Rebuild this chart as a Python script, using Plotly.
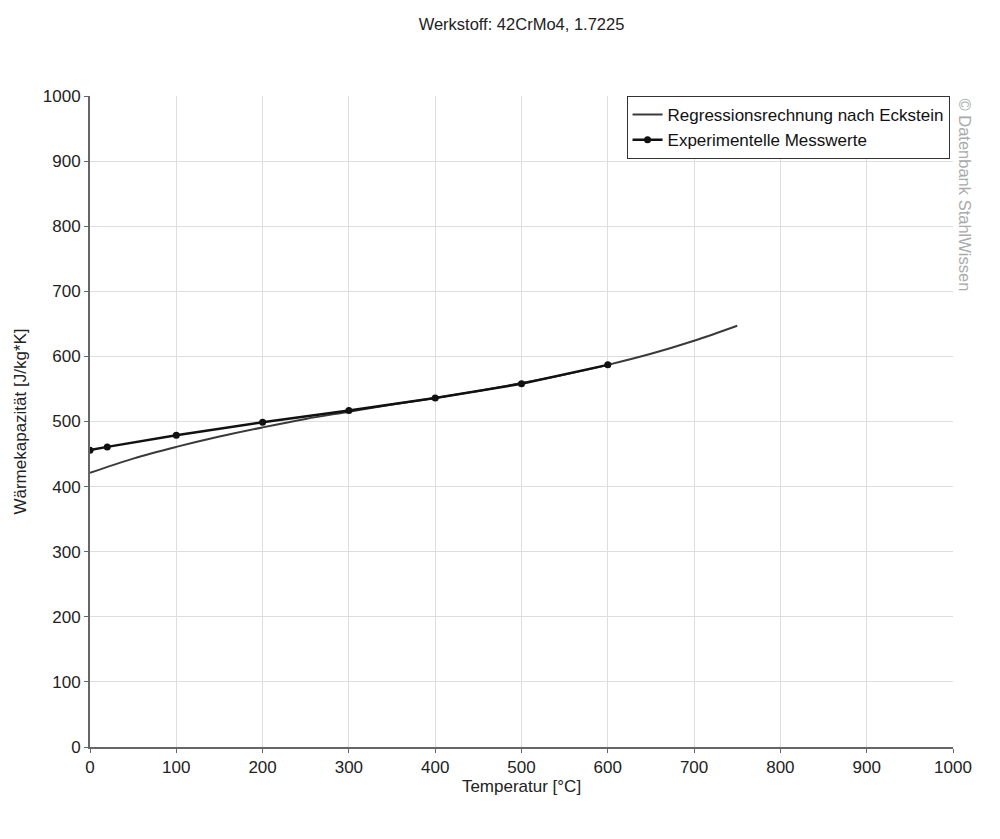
import plotly.graph_objects as go

# Regressionsrechnung nach Eckstein
reg_temp = [0, 50, 100, 150, 200, 250, 300, 350, 400, 450, 500, 550, 600, 650, 700, 750]
reg_cp = [421, 443, 461, 477, 491, 504, 515, 526, 536, 547, 559, 572, 587, 604, 624, 647]

# Experimentelle Messwerte
exp_temp = [0, 20, 100, 200, 300, 400, 500, 600]
exp_cp = [456, 461, 479, 499, 517, 536, 558, 587]

x_ticks = list(range(0, 1001, 100))
y_ticks = list(range(0, 1001, 100))

fig = go.Figure()

fig.add_trace(go.Scatter(
    x=reg_temp, y=reg_cp, mode='lines', name='Regressionsrechnung nach Eckstein',
    line=dict(color='#3a3a3a', width=2, shape='spline'),
))

fig.add_trace(go.Scatter(
    x=exp_temp, y=exp_cp, mode='lines+markers', name='Experimentelle Messwerte',
    line=dict(color='#111111', width=2.5),
    marker=dict(color='#111111', size=7),
))

axis_style = dict(
    showgrid=True, gridcolor='#dedede', gridwidth=1,
    showline=True, linecolor='#666666', linewidth=2,
    ticks='outside', ticklen=4, tickcolor='#666666',
    zeroline=False, tickfont=dict(size=17, color='#222222'),
)

fig.update_xaxes(range=[0, 1000], tickvals=x_ticks,
                 title=dict(text='Temperatur [°C]', font=dict(size=17, color='#222222'), standoff=4),
                 **axis_style)
fig.update_yaxes(range=[0, 1000], tickvals=y_ticks,
                 title=dict(text='Wärmekapazität [J/kg*K]', font=dict(size=17, color='#222222'), standoff=12),
                 **axis_style)

# Wasserzeichen rechts neben dem Plot
fig.add_annotation(
    text='© Datenbank StahlWissen', textangle=90,
    xref='paper', yref='paper', x=1.0, y=1.0, xshift=1,
    xanchor='left', yanchor='top', showarrow=False,
    font=dict(size=16.5, color='#aaaaaa'),
)

fig.update_layout(
    title=dict(text='Werkstoff: 42CrMo4, 1.7225', xref='paper', x=0.5, xanchor='center',
               y=1 - 16 / 839, yanchor='middle',
               font=dict(size=16.5, color='#222222')),
    width=1000, height=839,
    margin=dict(l=82, r=55, t=88, b=100),
    plot_bgcolor='white', paper_bgcolor='white',
    font=dict(family='Liberation Sans, Arial, sans-serif'),
    legend=dict(x=0.996, y=1.0, xanchor='right', yanchor='top',
                bgcolor='white', bordercolor='#333333', borderwidth=1,
                font=dict(size=17, color='#111111'), tracegroupgap=0,
                itemwidth=30),
    showlegend=True,
)

fig.write_html("out.html")
